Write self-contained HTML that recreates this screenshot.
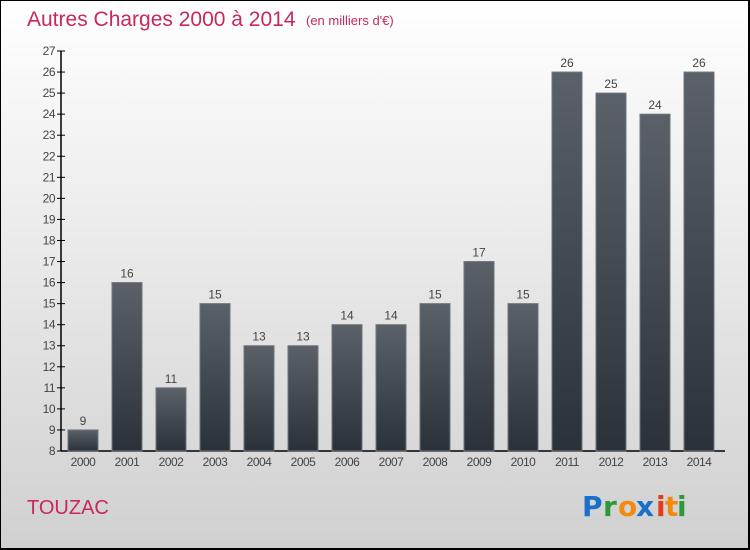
<!DOCTYPE html>
<html><head><meta charset="utf-8"><style>
body{margin:0}
#c{width:750px;height:550px;position:relative;box-sizing:border-box;border:1px solid #000;border-right:2px solid #000;border-bottom:2px solid #000;background:linear-gradient(#ffffff,#d0d0d0);font-family:"Liberation Sans",sans-serif;overflow:hidden}
</style></head><body>
<div id="c">
<svg width="750" height="550" style="position:absolute;left:-1px;top:-1px">
<defs><linearGradient id="g" x1="0" y1="0" x2="0" y2="1"><stop offset="0" stop-color="#5b6168"/><stop offset="1" stop-color="#2b3139"/></linearGradient></defs>
<text x="27" y="26" font-size="21" fill="#c8285a">Autres Charges 2000 à 2014</text>
<text x="306" y="25" font-size="13" fill="#c8285a">(en milliers d'€)</text>
<text x="27" y="514" font-size="20" fill="#c8285a">TOUZAC</text>
<g font-size="28" font-weight="bold" font-family="DejaVu Sans, sans-serif">
<text x="582" y="516" fill="#1a6fc8">P</text><text x="603" y="516" fill="#2a9a3a">r</text><text x="618" y="516" fill="#f28a10">o</text><text x="636" y="516" fill="#1a6fc8">x</text><text x="656" y="516" fill="#e83a1a">i</text><text x="665" y="516" fill="#f28a10">t</text><text x="677" y="516" fill="#2a9a3a">i</text>
</g>
<g id="plot"></g>
</svg>
</div>
<script>
const years=["2000","2001","2002","2003","2004","2005","2006","2007","2008","2009","2010","2011","2012","2013","2014"];
const values=[9,16,11,15,13,13,14,14,15,17,15,26,25,24,26];
const yTicks=[8,9,10,11,12,13,14,15,16,17,18,19,20,21,22,23,24,25,26,27];
const ns="http://www.w3.org/2000/svg";
const g=document.getElementById('plot');
const y=v=>451-(v-8)*(400/19);
const x=i=>83+i*44;
function mk(t,a,p){const e=document.createElementNS(ns,t);for(const k in a)e.setAttribute(k,a[k]);(p||g).appendChild(e);return e;}
let ax=mk('line',{x1:61,y1:y(27),x2:61,y2:451,stroke:'#000','stroke-width':1.5});


let bx=mk('line',{x1:61,y1:451,x2:725,y2:451,stroke:'#000','stroke-width':1.5});


yTicks.forEach(v=>{
 mk('line',{x1:57,y1:y(v),x2:65,y2:y(v),stroke:'#000'});
 const t=mk('text',{x:55,y:y(v)+4,'font-size':12,fill:'#444','text-anchor':'end','letter-spacing':'-0.5'});
 t.textContent=v;
 
 
});
years.forEach((yr,i)=>{
 const r=mk('rect',{x:x(i)-15,y:y(values[i]),width:30,height:451-y(values[i]),fill:'url(#g)',stroke:'#6f757b','stroke-width':1});
 
 
 const l=mk('text',{x:x(i),y:y(values[i])-5,'font-size':12,fill:'#444','text-anchor':'middle'});
 l.textContent=values[i];
 
 
 const xt=mk('text',{x:x(i),y:466,'font-size':12,fill:'#444','text-anchor':'middle','letter-spacing':'-0.5'});
 xt.textContent=yr;
 
 
});
</script>
</body></html>
